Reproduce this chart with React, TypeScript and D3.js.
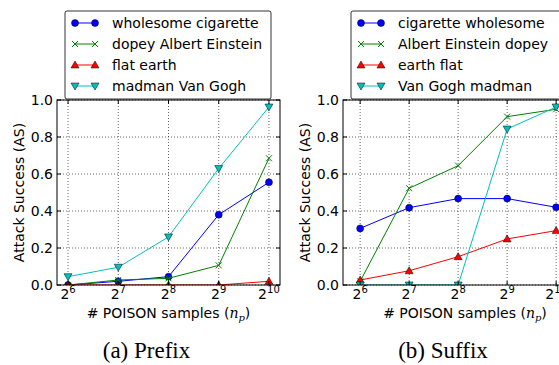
import * as d3 from "d3";
import React, { useEffect, useRef } from "react";

// x values are powers of two, drawn on a log2 axis
const exponents = [6, 7, 8, 9, 10];

const prefixLabels = ["wholesome cigarette", "dopey Albert Einstein", "flat earth", "madman Van Gogh"];
const prefixCigarette = [0.0, 0.02, 0.045, 0.38, 0.555];
const prefixEinstein = [0.0, 0.027, 0.036, 0.106, 0.685];
const prefixEarth = [0.0, 0.0, 0.0, 0.0, 0.02];
const prefixVanGogh = [0.045, 0.096, 0.26, 0.63, 0.962];

const suffixLabels = ["cigarette wholesome", "Albert Einstein dopey", "earth flat", "Van Gogh madman"];
const suffixCigarette = [0.306, 0.418, 0.467, 0.467, 0.42];
const suffixEinstein = [0.02, 0.523, 0.645, 0.91, 0.95];
const suffixEarth = [0.027, 0.077, 0.153, 0.249, 0.294];
const suffixVanGogh = [0.0, 0.0, 0.0, 0.843, 0.962];

const yTicks = [0, 0.2, 0.4, 0.6, 0.8, 1.0];

const colors = ["#0000ff", "#008000", "#ff0000", "#00bfbf"];
const markers = ["circle", "x", "up", "down"];

const W = 559;
const H = 365;
const FONT = "DejaVu Sans, sans-serif";

const panels = [
  {
    id: "a",
    caption: "(a) Prefix",
    left: 57,
    right: 280,
    domain: [5.78, 10.22],
    legendWidth: 206,
    labels: prefixLabels,
    values: [prefixCigarette, prefixEinstein, prefixEarth, prefixVanGogh],
  },
  {
    id: "b",
    caption: "(b) Suffix",
    left: 343,
    right: 587,
    domain: [5.65, 10.63],
    legendWidth: 232,
    labels: suffixLabels,
    values: [suffixCigarette, suffixEinstein, suffixEarth, suffixVanGogh],
  },
];

const drawMarker = (g, kind, color, x, y) => {
  if (kind === "circle") {
    g.append("circle").attr("cx", x).attr("cy", y).attr("r", 3.5)
      .attr("fill", color).attr("stroke", "#000").attr("stroke-width", 0.5);
  } else if (kind === "x") {
    const s = 3;
    g.append("path")
      .attr("d", `M${x - s},${y - s}L${x + s},${y + s}M${x - s},${y + s}L${x + s},${y - s}`)
      .attr("stroke", color).attr("stroke-width", 1).attr("fill", "none");
  } else {
    const s = 4;
    const d = kind === "up"
      ? `M${x},${y - s}L${x + s},${y + s * 0.75}L${x - s},${y + s * 0.75}Z`
      : `M${x},${y + s}L${x + s},${y - s * 0.75}L${x - s},${y - s * 0.75}Z`;
    g.append("path").attr("d", d)
      .attr("fill", color).attr("stroke", "#000").attr("stroke-width", 0.5);
  }
};

const App = () => {
  const ref = useRef(null);

  useEffect(() => {
    const svg = d3.select(ref.current);
    svg.selectAll("*").remove();

    const top = 100;
    const bottom = 285;
    const y = d3.scaleLinear().domain([0, 1]).range([bottom, top]);

    panels.forEach((p) => {
      const x = d3.scaleLinear().domain(p.domain).range([p.left, p.right]);
      const g = svg.append("g");

      g.append("clipPath").attr("id", `clip-${p.id}`)
        .append("rect").attr("x", p.left).attr("y", top)
        .attr("width", p.right - p.left).attr("height", bottom - top);

      // grid
      exponents.forEach((e) => {
        g.append("line").attr("x1", x(e)).attr("x2", x(e)).attr("y1", top).attr("y2", bottom)
          .attr("stroke", "#000").attr("stroke-width", 0.6).attr("stroke-dasharray", "1,2");
      });
      yTicks.forEach((t) => {
        g.append("line").attr("x1", p.left).attr("x2", p.right).attr("y1", y(t)).attr("y2", y(t))
          .attr("stroke", "#000").attr("stroke-width", 0.6).attr("stroke-dasharray", "1,2");
      });

      // series
      const data = g.append("g").attr("clip-path", `url(#clip-${p.id})`);
      const line = d3.line().x((d) => x(d[0])).y((d) => y(d[1]));
      p.values.forEach((vals, i) => {
        const pts = exponents.map((e, j) => [e, vals[j]]);
        data.append("path").attr("d", line(pts)).attr("fill", "none")
          .attr("stroke", colors[i]).attr("stroke-width", 1);
        pts.forEach((pt) => drawMarker(data, markers[i], colors[i], x(pt[0]), y(pt[1])));
      });

      // frame and ticks
      g.append("rect").attr("x", p.left).attr("y", top)
        .attr("width", p.right - p.left).attr("height", bottom - top)
        .attr("fill", "none").attr("stroke", "#000").attr("stroke-width", 1);
      exponents.forEach((e) => {
        g.append("path").attr("d", `M${x(e)},${bottom}v-4M${x(e)},${top}v4`)
          .attr("stroke", "#000").attr("stroke-width", 1);
        const t = g.append("text").attr("x", x(e)).attr("y", 299)
          .attr("text-anchor", "middle").attr("font-family", FONT).attr("font-size", 14);
        t.append("tspan").text("2");
        t.append("tspan").attr("dy", -6).attr("font-size", 10).text(e);
      });
      yTicks.forEach((v) => {
        g.append("path").attr("d", `M${p.left},${y(v)}h4M${p.right},${y(v)}h-4`)
          .attr("stroke", "#000").attr("stroke-width", 1);
        g.append("text").attr("x", p.left - 4).attr("y", y(v) + 5)
          .attr("text-anchor", "end").attr("font-family", FONT).attr("font-size", 14)
          .text(d3.format(".1f")(v));
      });

      // axis labels
      const cx = (p.left + p.right) / 2;
      const xl = g.append("text").attr("x", cx).attr("y", 318)
        .attr("text-anchor", "middle").attr("font-family", FONT).attr("font-size", 14);
      xl.append("tspan").text("# POISON samples (");
      xl.append("tspan").attr("font-style", "italic").attr("font-family", "DejaVu Serif, serif").text("n");
      xl.append("tspan").attr("dy", 3).attr("font-size", 10).attr("font-style", "italic")
        .attr("font-family", "DejaVu Serif, serif").text("p");
      xl.append("tspan").attr("dy", -3).text(")");

      g.append("text")
        .attr("transform", `translate(${p.left - 33},${(top + bottom) / 2}) rotate(-90)`)
        .attr("text-anchor", "middle").attr("font-family", FONT).attr("font-size", 14)
        .text("Attack Success (AS)");

      g.append("text").attr("x", cx - 22).attr("y", 358).attr("text-anchor", "middle")
        .attr("font-family", "Liberation Serif, Times New Roman, serif").attr("font-size", 23)
        .text(p.caption);

      // legend
      const lx = p.left + 8;
      const ly = 11;
      const lg = g.append("g");
      lg.append("rect").attr("x", lx).attr("y", ly).attr("width", p.legendWidth).attr("height", 88)
        .attr("rx", 2).attr("fill", "#fff").attr("stroke", "#000").attr("stroke-width", 0.8);
      p.labels.forEach((lab, i) => {
        const yy = ly + 12 + i * 21;
        lg.append("line").attr("x1", lx + 10).attr("x2", lx + 30).attr("y1", yy).attr("y2", yy)
          .attr("stroke", colors[i]).attr("stroke-width", 1);
        drawMarker(lg, markers[i], colors[i], lx + 10, yy);
        drawMarker(lg, markers[i], colors[i], lx + 30, yy);
        lg.append("text").attr("x", lx + 47).attr("y", yy + 5)
          .attr("font-family", FONT).attr("font-size", 14).text(lab);
      });
    });
  }, []);

  return (
    <svg
      ref={ref}
      width={W}
      height={H}
      style={{ position: "absolute", left: 0, top: 0, background: "#fff" }}
    ></svg>
  );
};

export default App;
